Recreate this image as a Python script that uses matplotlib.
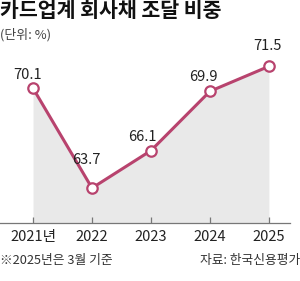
import matplotlib
matplotlib.use("Agg")
import matplotlib.pyplot as plt

plt.rcParams['font.family'] = ['Noto Sans CJK KR', 'DejaVu Sans']

years = [2021, 2022, 2023, 2024, 2025]
tick_labels = ["2021년", "2022", "2023", "2024", "2025"]
values = [70.1, 63.7, 66.1, 69.9, 71.5]
label_text = ["70.1", "63.7", "66.1", "69.9", "71.5"]

line_color = "#b8436e"
fill_color = "#e9e9e9"
text_color = "#222222"

fig = plt.figure(figsize=(3.0, 2.81), dpi=100)
ax = fig.add_axes([0.0, 0.2064, 0.967, 0.598])
ymin, ymax = 61.46, 72.23
ax.set_xlim(2020.44, 2025.36)
ax.set_ylim(ymin, ymax)

ax.fill_between(years, values, ymin, color=fill_color, lw=0, zorder=1)
ax.plot(years, values, color=line_color, lw=2.2, zorder=3,
        marker='o', ms=7.5, mfc='white', mec=line_color, mew=1.6)

offsets = [(-5, 13), (-6, 28), (-9, 14), (-7, 14), (-1, 20)]
for x, v, t, (dx, dy) in zip(years, values, label_text, offsets):
    ax.annotate(t, (x, v), xytext=(dx * 0.72, dy * 0.72), textcoords='offset points',
                ha='center', va='center', fontsize=10.5, color=text_color, zorder=4)

for s in ['top', 'right', 'left']:
    ax.spines[s].set_visible(False)
ax.spines['bottom'].set_color('#777777')
ax.spines['bottom'].set_linewidth(0.9)
ax.set_yticks([])
ax.set_xticks(years)
ax.set_xticklabels(tick_labels, fontsize=10.5, color=text_color)
ax.tick_params(axis='x', direction='in', length=4, color='#777777', width=0.9, pad=5)

fig.text(0.0, 0.963, "카드업계 회사채 조달 비중", fontsize=14.8, fontweight='bold',
         color='#111111', ha='left', va='center')
fig.text(0.0, 0.875, "(단위: %)", fontsize=9.3, color='#444444', ha='left', va='center')
fig.text(0.0, 0.072, "※2025년은 3월 기준", fontsize=9.2, color='#333333', ha='left', va='center')
fig.text(1.0, 0.072, "자료: 한국신용평가", fontsize=9.2, color='#333333', ha='right', va='center')

fig.savefig("out.png", dpi=100, facecolor='white')
